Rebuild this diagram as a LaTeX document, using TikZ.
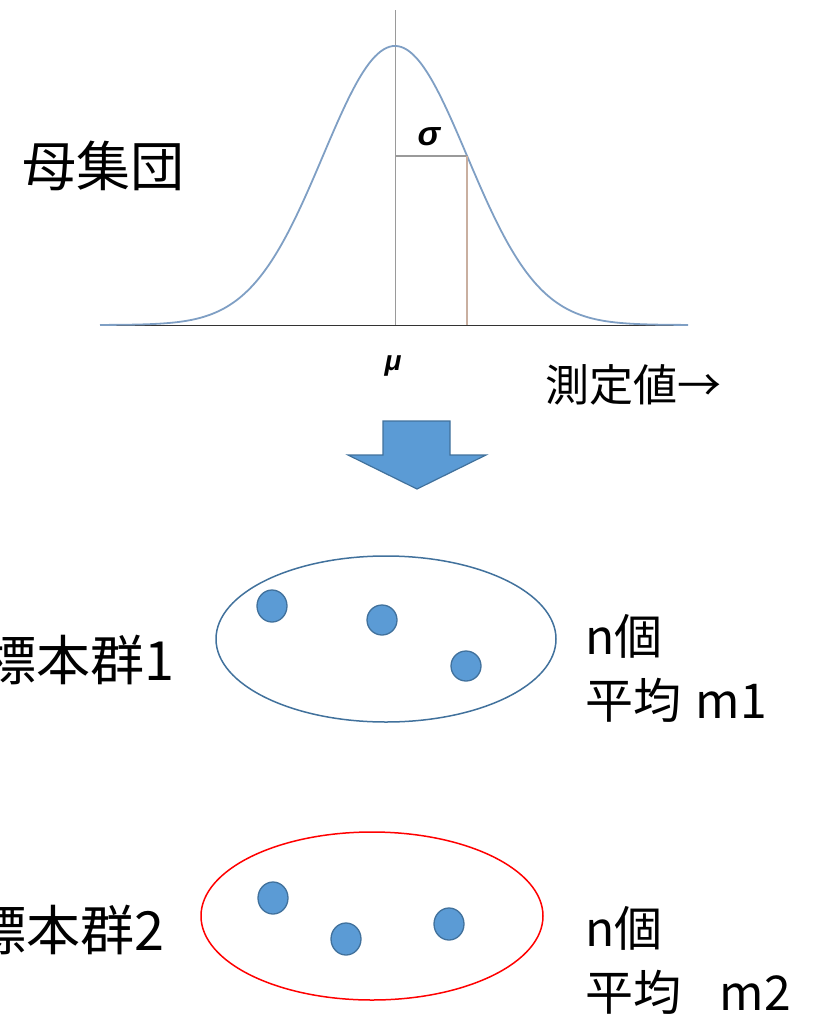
\documentclass[tikz,border=0pt]{standalone}
\usepackage{fontspec}
\setmainfont{Noto Sans CJK JP}
\newfontfamily\grk{Liberation Sans}
\definecolor{curveblue}{HTML}{7F9FC4}
\definecolor{dotfill}{HTML}{5B9BD5}
\definecolor{dotline}{HTML}{41719C}
\definecolor{ellblue}{HTML}{41719C}
\definecolor{axisgray}{HTML}{9A9A9A}
\definecolor{sigtan}{HTML}{C9AFA0}
\tikzset{
  lbl/.style={inner sep=0pt, font=\fontsize{48}{56}\selectfont},
  biglbl/.style={inner sep=0pt, font=\fontsize{54}{60}\selectfont},
  greek/.style={inner sep=0pt, font=\grk\bfseries\itshape\fontsize{34}{36}\selectfont},
  dot/.style={draw=dotline, fill=dotfill, line width=1.3pt},
}
\begin{document}
\begin{tikzpicture}[x=1pt, y=-1pt]
\useasboundingbox (0,0) rectangle (825,1017);
% axes
\draw[axisgray, line width=0.6pt] (395,10) -- (395,325);
\draw[black!80, line width=0.9pt] (100,325) -- (688,325);
% gaussian
\draw[curveblue, line width=1.8pt] plot[domain=100:688, samples=200, smooth] (\x, {325-279*exp(-0.5*((\x-395)/72)^2)});
% sigma lines
\coordinate (mu0) at (395,156);
\coordinate (s0) at (467,156);
\coordinate (s1) at (467,325);
\draw[axisgray, line width=1.2pt] (mu0) -- (s0);
\draw[sigtan, line width=1.2pt] (s0) -- (s1);
\node[greek] (sigma) at (429,137) {σ};
\node[greek, font=\grk\bfseries\itshape\fontsize{28}{30}\selectfont] (mu) at (393,366) {μ};
% labels
\node[biglbl, anchor=west] (pop) at (22,166) {母集団};
\node[lbl, anchor=west, font=\fontsize{44}{50}\selectfont] (meas) at (545,385) {測定値→};
% block arrow
\draw[draw=dotline, fill=dotfill, line width=1.2pt]
  (383,421) -- (450,421) -- (450,455) -- (486,455) -- (417,489) -- (348,455) -- (383,455) -- cycle;
% sample 1
\draw[ellblue, line width=1.5pt] (386,639) ellipse [x radius=170pt, y radius=83pt];
\draw[dot] (272,606) ellipse [x radius=15pt, y radius=16pt];
\draw[dot] (382,620) ellipse [x radius=15pt, y radius=15pt];
\draw[dot] (466,666) ellipse [x radius=15pt, y radius=15pt];
\node[biglbl, anchor=east] (s1lbl) at (175,660) {標本群1};
\node[lbl, anchor=west] (n1) at (585,636) {n個};
\node[lbl, anchor=west] (m1) at (585,700) {平均\hspace{0.3em}m1};
% sample 2
\draw[red, line width=1.5pt] (372,916) ellipse [x radius=171pt, y radius=84pt];
\draw[dot] (273,898) ellipse [x radius=15pt, y radius=16pt];
\draw[dot] (346,939) ellipse [x radius=15pt, y radius=16pt];
\draw[dot] (449,924) ellipse [x radius=15pt, y radius=16pt];
\node[biglbl, anchor=east] (s2lbl) at (165,930) {標本群2};
\node[lbl, anchor=west] (n2) at (585,928) {n個};
\node[lbl, anchor=west] (m2) at (585,992) {平均\hspace{0.8em}m2};
\end{tikzpicture}
\end{document}
